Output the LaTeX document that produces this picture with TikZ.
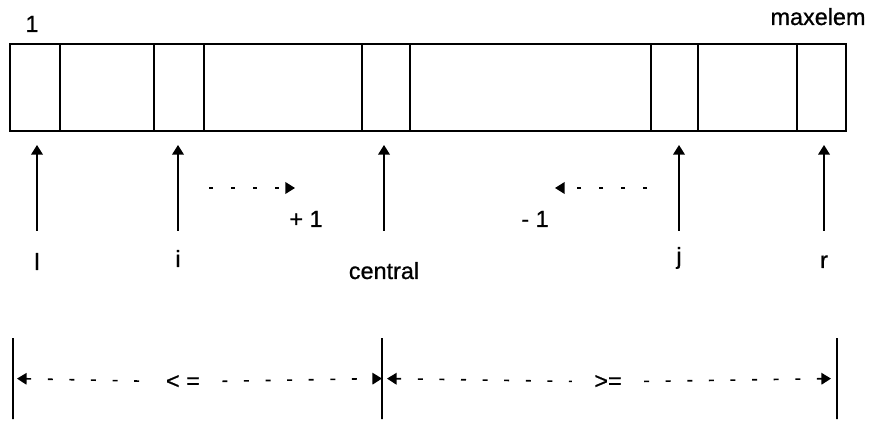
\documentclass[tikz,border=0pt]{standalone}
\usepackage{fontspec}
\setmainfont{Liberation Sans}[FakeBold=0.8]
\usepackage{tikz}
\usetikzlibrary{positioning,arrows.meta}

\begin{document}
\begin{tikzpicture}[x=0.5pt,y=-0.5pt,font=\fontsize{11.7}{14}\selectfont,node distance=0pt,
  head/.tip={Triangle[length=4.8pt,width=5.8pt]},
  cell/.style={draw,line width=0.9pt,minimum height=43.5pt,inner sep=0pt,outer sep=0pt},
  lbl/.style={inner sep=0pt,anchor=base},
  bar/.style={draw,line width=1pt,minimum width=0pt,minimum height=40.5pt,inner sep=0pt,outer sep=0pt},
  ptr/.style={-head,line width=0.8pt,shorten >=7pt},
  move/.style={-head,line width=0.8pt,dash pattern=on 2pt off 9pt},
  dim/.style={line width=0.8pt,dash pattern=on 2.5pt off 8.3pt}]
  \useasboundingbox (0,0) rectangle (870,421);
  % the array, cell by cell
  \node[cell,minimum width=25pt,anchor=north west] (cl) at (10,44) {};
  \node[cell,minimum width=47pt,right=of cl] (c1) {};
  \node[cell,minimum width=25pt,right=of c1] (ci) {};
  \node[cell,minimum width=79pt,right=of ci] (c2) {};
  \node[cell,minimum width=24pt,right=of c2] (cc) {};
  \node[cell,minimum width=120.5pt,right=of cc] (c3) {};
  \node[cell,minimum width=23.5pt,right=of c3] (cj) {};
  \node[cell,minimum width=49.5pt,right=of cj] (c4) {};
  \node[cell,minimum width=24.5pt,right=of c4] (cr) {};
  \node[lbl] (first) at (32,32) {1};
  \node[lbl] (last) at (818,25) {maxelem};
  % index pointers
  \node[lbl] (nl) at (37,270) {l};
  \node[lbl] (ni) at (178,267) {i};
  \node[lbl] (nc) at (384,279) {central};
  \node[lbl] (nj) at (679,264) {j};
  \node[lbl] (nr) at (824,268) {r};
  \coordinate (foot) at (0,231);
  \draw[ptr] (nl |- foot) -- (nl |- cl.south);
  \draw[ptr] (ni |- foot) -- (ni |- ci.south);
  \draw[ptr] (nc |- foot) -- (nc |- cc.south);
  \draw[ptr] (nj |- foot) -- (nj |- cj.south);
  \draw[ptr] (nr |- foot) -- (nr |- cr.south);
  % i and j moving inwards
  \coordinate (ia) at (209,188);
  \coordinate (ib) at (295,188);
  \coordinate (ja) at (647,188);
  \coordinate (jb) at (555,188);
  \draw[move] (ia) -- (ib);
  \draw[move] (ja) -- (jb);
  \node[lbl] (inc) at (306,227) {+ 1};
  \node[lbl] (dec) at (535,227) {- 1};
  % partition below
  \node[bar] (b1) at (13,378.5) {};
  \node[bar] (b2) at (382,378.5) {};
  \node[bar] (b3) at (837,378.5) {};
  \node[inner xsep=11pt,inner ysep=0pt] (le) at (183,382) {< =};
  \node[inner xsep=11pt,inner ysep=0pt] (ge) at (608,382) {>=};
  \draw[dim,head-,shorten <=2pt] (b1) -- (le);
  \draw[dim,-head] (le) -- (b2);
  \draw[dim,head-,shorten <=2.5pt] (b2) -- (ge);
  \draw[dim,-head,shorten >=3pt] (ge) -- (b3);
\end{tikzpicture}
\end{document}
